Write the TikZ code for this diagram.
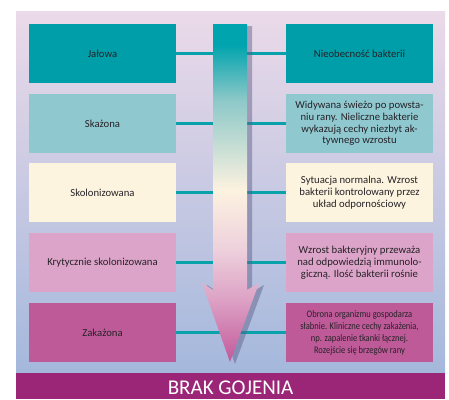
\documentclass[tikz,border=0pt]{standalone}
\usepackage{fontspec}
\setmainfont{Carlito}
\newfontfamily\condfont[FakeStretch=0.85]{Carlito}
\definecolor{bgtop}{HTML}{EBDAE9}
\definecolor{bgbot}{HTML}{A4B8DC}
\definecolor{cteal}{HTML}{009EA8}
\definecolor{clteal}{HTML}{8FC8CF}
\definecolor{ccream}{HTML}{FDF4DF}
\definecolor{cpink}{HTML}{DCA4C8}
\definecolor{cmag}{HTML}{BE5A98}
\definecolor{cpurple}{HTML}{9B2678}
\definecolor{clink}{HTML}{0AA2AA}
\definecolor{ctxt}{HTML}{262228}
\definecolor{ar1}{HTML}{00A4AE}
\definecolor{ar2}{HTML}{8CC8C8}
\definecolor{ar3}{HTML}{FDF2E0}
\definecolor{ar4}{HTML}{EDD0DC}
\definecolor{ar5}{HTML}{DCA0C4}
\definecolor{ar6}{HTML}{C2589A}
\pgfdeclareverticalshading{arrowshade}{100bp}{color(0bp)=(ar6); color(25bp)=(ar6); color(34bp)=(ar5); color(41.6bp)=(ar4); color(50.4bp)=(ar3); color(63.8bp)=(ar2); color(71.9bp)=(ar1); color(75bp)=(ar1); color(100bp)=(ar1)}
\begin{document}
\begin{tikzpicture}[x=1pt,y=-1pt,
  box/.style={minimum width=147pt,minimum height=59pt,inner sep=0pt,outer sep=0pt,align=center,text=ctxt,font=\fontsize{10.7}{11.8}\selectfont},
  link/.style={draw=clink,line width=2.2pt}]
\useasboundingbox (0,0) rectangle (449,399);
\shade[top color=bgtop,bottom color=bgbot] (16,11) rectangle (445,373);
\fill[cpurple] (16,373) rectangle (445,399);
% left boxes
\node[box,fill=cteal] (L1) at (102.5,53.5) {Jałowa};
\node[box,fill=clteal] (L2) at (102.5,123.5) {Skażona};
\node[box,fill=ccream] (L3) at (102.5,192.5) {Skolonizowana};
\node[box,fill=cpink] (L4) at (102.5,262.5) {Krytycznie skolonizowana};
\node[box,fill=cmag] (L5) at (102.5,332.5) {Zakażona};
% right boxes
\node[box,fill=cteal] (R1) at (359.5,53.5) {Nieobecność bakterii};
\node[box,fill=clteal] (R2) at (359.5,123.5) {Widywana świeżo po powsta-\\niu rany. Nieliczne bakterie\\wykazują cechy niezbyt ak-\\tywnego wzrostu};
\node[box,fill=ccream] (R3) at (359.5,192.5) {Sytuacja normalna. Wzrost\\bakterii kontrolowany przez\\układ odpornościowy};
\node[box,fill=cpink] (R4) at (359.5,262.5) {Wzrost bakteryjny przeważa\\nad odpowiedzią immunolo-\\giczną. Ilość bakterii rośnie};
\node[box,fill=cmag,font=\condfont\fontsize{10}{12}\selectfont] (R5) at (359.5,332.5) {Obrona organizmu gospodarza\\słabnie. Kliniczne cechy zakażenia,\\np. zapalenie tkanki łącznej.\\Rozejście się brzegów rany};
% links
\foreach \i in {1,...,5} \draw[link] (L\i.east) -- (R\i.west);
% arrow shadow
\fill[black!45!blue!30!gray,opacity=0.45] (218,26) -- (252,26) -- (252,292) -- (264,285) -- (235,364) -- (207,285) -- (218,292) -- cycle;
% arrow
\shade[shading=arrowshade] (213,24) -- (247,24) -- (247,290) -- (259,283) -- (230,362) -- (202,283) -- (213,290) -- cycle;
% bottom label
\node[anchor=base,text=white,font=\fontsize{21}{21}\selectfont,inner sep=0pt] (T) at (230.5,394) {BRAK GOJENIA};
\end{tikzpicture}
\end{document}
